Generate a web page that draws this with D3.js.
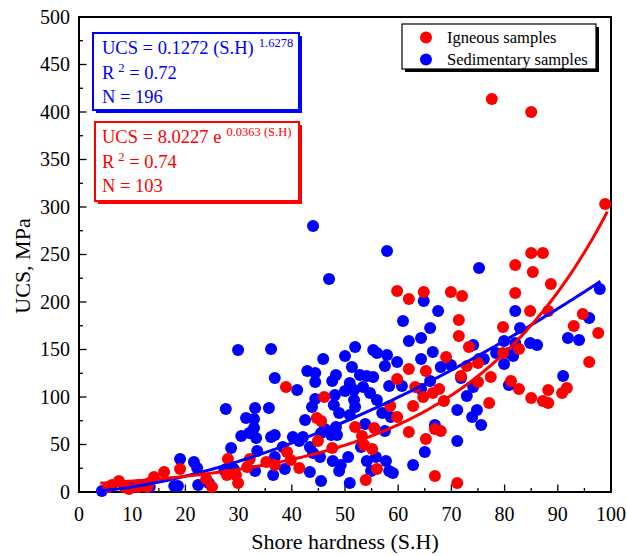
<!DOCTYPE html>
<html>
<head>
<meta charset="utf-8">
<script src="https://cdn.jsdelivr.net/npm/d3@7"></script>
<style>
  html, body { margin: 0; padding: 0; background: #fff; }
  svg { display: block; font-family: "Liberation Serif", "Times New Roman", serif; }
</style>
</head>
<body>
<svg id="chart" width="627" height="556"></svg>
<script>
// Igneous samples: Shore hardness and UCS (MPa)
const igneousSH = [77.6, 85.0, 98.9, 85.0, 87.2, 82.0, 85.3, 88.7, 64.8, 69.9, 72.0, 82.0, 84.8, 88.2, 94.7, 71.4, 79.7, 93.0, 97.6, 71.4,
  73.3, 69.0, 75.0, 72.9, 79.7, 82.7, 65.2, 95.9, 71.8, 77.4, 75.0, 81.2, 82.7, 88.2, 91.7, 90.8, 67.7, 66.5, 64.7, 68.6,
  85.0, 87.2, 88.2, 77.1, 66.9, 68.0, 65.2, 66.9, 71.1, 38.9, 46.1, 59.8, 62.0, 63.2, 62.8, 59.8, 58.5, 44.7, 45.5, 55.5,
  51.9, 62.0, 53.2, 44.9, 47.6, 53.6, 55.1, 39.1, 39.8, 41.4, 35.2, 36.8, 56.0, 53.9, 32.1, 7.5, 6.2, 5.5, 8.6, 9.4,
  11.1, 12.8, 14.1, 13.2, 16.0, 19.0, 23.9, 25.0, 28.0, 27.8, 29.5, 29.9, 31.6, 59.8, 62.0];
const igneousUCS = [413.7, 400, 303.2, 251.6, 251.6, 238.9, 231.6, 218.9, 210.5, 210.5, 206.3, 209.5, 190.5, 190.5, 187.4, 181.1, 173.7, 174.7, 167.4, 164.2,
  152.6, 142.1, 135.8, 132.6, 146.3, 150.5, 127.4, 136.8, 122.1, 121.1, 115.8, 116.8, 108.4, 107.4, 109.5, 104.2, 108.4, 104.2, 100, 95.8,
  98.9, 95.8, 93.7, 93.7, 66.3, 64.2, 55.8, 16.8, 9.5, 110.5, 100, 118.9, 129.5, 110.5, 90.5, 78.9, 90.5, 77.9, 74.7, 67.4,
  68.4, 63.2, 58.9, 53.7, 46.3, 49.5, 45.3, 42.1, 33.7, 25.3, 31.6, 28.4, 24.2, 12.6, 34.7, 11.6, 7.4, 5.3, 5.3, 3.2,
  5.3, 5.3, 15.8, 9.5, 21.1, 24.2, 13.7, 5.3, 34.7, 17.9, 17.9, 9.5, 26.3, 211.6, 203.2];

// Sedimentary samples: Shore hardness and UCS (MPa)
const sedimentarySH = [75.2, 64.8, 67.5, 82.0, 95.9, 97.9, 66.0, 82.9, 64.3, 91.9, 94.0, 79.9, 82.0, 84.8, 86.1, 74.1, 66.5, 64.3, 78.4, 80.8,
  81.6, 68.0, 69.9, 75.2, 76.1, 79.9, 66.0, 71.8, 64.3, 74.1, 72.9, 80.8, 91.0, 71.1, 74.8, 73.9, 75.6, 66.9, 71.1, 65.0,
  60.9, 62.0, 36.1, 51.9, 55.3, 56.0, 50.0, 57.9, 45.9, 59.8, 57.5, 51.3, 52.8, 54.1, 55.3, 42.9, 44.4, 48.3, 36.8, 44.4,
  41.0, 47.6, 50.9, 51.7, 53.4, 54.7, 58.3, 60.7, 50.0, 48.1, 56.0, 44.4, 43.8, 47.9, 51.7, 51.9, 33.1, 35.7, 48.9, 50.9,
  42.5, 57.0, 58.6, 48.3, 46.2, 53.8, 57.5, 40.2, 42.1, 41.4, 45.5, 47.4, 48.5, 36.8, 36.1, 33.3, 43.4, 44.0, 38.3, 36.8,
  45.3, 33.5, 53.0, 50.6, 47.7, 54.1, 55.8, 57.7, 58.3, 59.0, 49.2, 43.4, 38.7, 33.1, 36.5, 48.9, 54.9, 62.8, 45.5, 50.9,
  32.9, 32.9, 4.3, 9.4, 10.7, 12.0, 13.3, 17.9, 18.6, 19.0, 21.6, 22.2, 22.4, 24.4, 27.6, 28.6, 27.3, 29.1, 31.4, 32.0,
  30.5, 44.0, 57.9, 47.0, 29.9];
const sedimentaryUCS = [235.8, 201.1, 190.5, 190.5, 183.2, 213.7, 172.6, 172.6, 162.1, 162.1, 160, 158.9, 156.8, 156.8, 154.7, 154.7, 147.4, 140, 146.3, 146.3,
  143.2, 131.6, 133.7, 140, 140, 134.7, 116.8, 120, 108.4, 110.5, 101.1, 112.6, 122.1, 86.3, 86.3, 78.9, 70.5, 70.5, 53.7, 42.1,
  180, 158.9, 150.5, 152.6, 149.5, 146.3, 143.2, 144.2, 140, 136.8, 132.6, 131.6, 123.2, 122.1, 121.1, 127.4, 125.3, 123.2, 120, 115.8,
  107.4, 116.8, 114.7, 107.4, 110.5, 104.2, 111.6, 111.6, 106.3, 102.1, 96.8, 97.9, 89.5, 91.6, 96.8, 89.5, 88.4, 88.4, 83.2, 81.1,
  75.8, 83.2, 78.9, 68.4, 66.3, 71.6, 64.2, 57.9, 57.9, 53.7, 62.1, 60, 60, 60, 57.9, 56.8, 47.4, 41.1, 47.4, 36.8,
  36.8, 43.2, 47.4, 36.8, 32.6, 32.6, 36.8, 32.6, 22.1, 20, 28.4, 21.1, 24.2, 22.1, 17.9, 22.1, 22.1, 28.4, 11.6, 9.5,
  76.8, 67.4, 1.1, 5.3, 5.3, 7.4, 5.3, 6.3, 6.3, 34.7, 31.6, 25.3, 7.4, 9.5, 87.4, 46.3, 23.2, 24.2, 77.9, 62.1,
  58.9, 280, 253.7, 224.2, 149.5];

// Axis ticks
const xTicks = [0, 10, 20, 30, 40, 50, 60, 70, 80, 90, 100];
const yTicks = [0, 50, 100, 150, 200, 250, 300, 350, 400, 450, 500];

// Regression models printed in the boxes
const powerFit = { a: 0.1272, b: 1.6278, from: 4, to: 98 };     // UCS = a * SH^b
const expFit = { a: 8.0227, b: 0.0363, from: 4, to: 99.3 };      // UCS = a * e^(b*SH)

const RED = "#ff0000", BLUE = "#0000ff";

const svg = d3.select("#chart");
const x = d3.scaleLinear().domain([0, 100]).range([79, 611]);
const y = d3.scaleLinear().domain([0, 500]).range([492, 17]);

// Plot frame
svg.append("rect")
  .attr("x", x(0)).attr("y", y(500))
  .attr("width", x(100) - x(0)).attr("height", y(0) - y(500))
  .attr("fill", "none").attr("stroke", "#000").attr("stroke-width", 2);

// Inward ticks, major and minor
const xMinor = d3.range(5, 100, 10);
const yMinor = d3.range(25, 500, 50);
const tickG = svg.append("g").attr("stroke", "#000").attr("stroke-width", 1.3);
xTicks.slice(1, -1).forEach(v => tickG.append("line").attr("x1", x(v)).attr("x2", x(v)).attr("y1", y(0)).attr("y2", y(0) - 7.5));
xMinor.forEach(v => tickG.append("line").attr("x1", x(v)).attr("x2", x(v)).attr("y1", y(0)).attr("y2", y(0) - 4));
yTicks.slice(1, -1).forEach(v => tickG.append("line").attr("y1", y(v)).attr("y2", y(v)).attr("x1", x(0)).attr("x2", x(0) + 7.5));
yMinor.forEach(v => tickG.append("line").attr("y1", y(v)).attr("y2", y(v)).attr("x1", x(0)).attr("x2", x(0) + 4));

// Tick labels
svg.append("g").selectAll("text").data(xTicks).join("text")
  .attr("x", d => x(d)).attr("y", 521)
  .attr("text-anchor", "middle").attr("font-size", 20).text(d => d);
svg.append("g").selectAll("text").data(yTicks).join("text")
  .attr("x", 70).attr("y", d => y(d)).attr("dy", "0.34em")
  .attr("text-anchor", "end").attr("font-size", 20).text(d => d);

// Axis titles
svg.append("text").attr("x", x(50)).attr("y", 549)
  .attr("text-anchor", "middle").attr("font-size", 22).text("Shore hardness (S.H)");
svg.append("text").attr("transform", "translate(30,266) rotate(-90)")
  .attr("text-anchor", "middle").attr("font-size", 22).text("UCS, MPa");

// Scatter points
const R = 6;
svg.append("g").selectAll("circle").data(d3.zip(sedimentarySH, sedimentaryUCS)).join("circle")
  .attr("cx", d => x(d[0])).attr("cy", d => y(d[1])).attr("r", R).attr("fill", BLUE);
svg.append("g").selectAll("circle").data(d3.zip(igneousSH, igneousUCS)).join("circle")
  .attr("cx", d => x(d[0])).attr("cy", d => y(d[1])).attr("r", R).attr("fill", RED);

// Fitted curves
const line = d3.line().x(d => x(d[0])).y(d => y(d[1]));
const samples = (f, from, to) => d3.range(0, 201).map(i => { const s = from + (to - from) * i / 200; return [s, f(s)]; });
svg.append("path")
  .attr("d", line(samples(s => powerFit.a * Math.pow(s, powerFit.b), powerFit.from, powerFit.to)))
  .attr("fill", "none").attr("stroke", BLUE).attr("stroke-width", 3);
svg.append("path")
  .attr("d", line(samples(s => expFit.a * Math.exp(expFit.b * s), expFit.from, expFit.to)))
  .attr("fill", "none").attr("stroke", RED).attr("stroke-width", 3);

// Equation boxes with coloured drop shadow
function eqBox(x0, y0, w, h, color) {
  svg.append("rect").attr("x", x0 + 3).attr("y", y0 + 3).attr("width", w).attr("height", h).attr("fill", color);
  svg.append("rect").attr("x", x0).attr("y", y0).attr("width", w).attr("height", h)
    .attr("fill", "#fff").attr("stroke", color).attr("stroke-width", 2);
}
function eqLines(top, color, eqMain, eqSup, r2, n) {
  const g = svg.append("g").attr("fill", color).attr("font-size", 18.5);
  const t1 = g.append("text").attr("x", 102).attr("y", top);
  t1.append("tspan").text(eqMain);
  t1.append("tspan").attr("dx", 5).attr("dy", -7).attr("font-size", 12.5).text(eqSup);
  const t2 = g.append("text").attr("x", 102).attr("y", top + 25);
  t2.append("tspan").text("R");
  t2.append("tspan").attr("dx", 4).attr("dy", -7).attr("font-size", 12.5).text("2");
  t2.append("tspan").attr("dy", 7).text(" = " + r2);
  g.append("text").attr("x", 102).attr("y", top + 49).text("N = " + n);
}
eqBox(93, 33, 206, 77, BLUE);
eqLines(54, BLUE, "UCS = 0.1272 (S.H)", "1.6278", "0.72", 196);
eqBox(95, 122, 204, 79, RED);
eqLines(143, RED, "UCS = 8.0227 e", "0.0363 (S.H)", "0.74", 103);

// Legend
const lg = svg.append("g");
lg.append("rect").attr("x", 405).attr("y", 27).attr("width", 194).attr("height", 45).attr("fill", "#000");
lg.append("rect").attr("x", 402).attr("y", 24).attr("width", 194).attr("height", 45)
  .attr("fill", "#fff").attr("stroke", "#000").attr("stroke-width", 1.2);
const legendItems = [["Igneous samples", RED], ["Sedimentary samples", BLUE]];
legendItems.forEach(([label, color], i) => {
  lg.append("circle").attr("cx", 426).attr("cy", 37.5 + i * 22).attr("r", R).attr("fill", color);
  lg.append("text").attr("x", 447).attr("y", 42.5 + i * 22).attr("font-size", 16.5).text(label);
});
</script>
</body>
</html>
